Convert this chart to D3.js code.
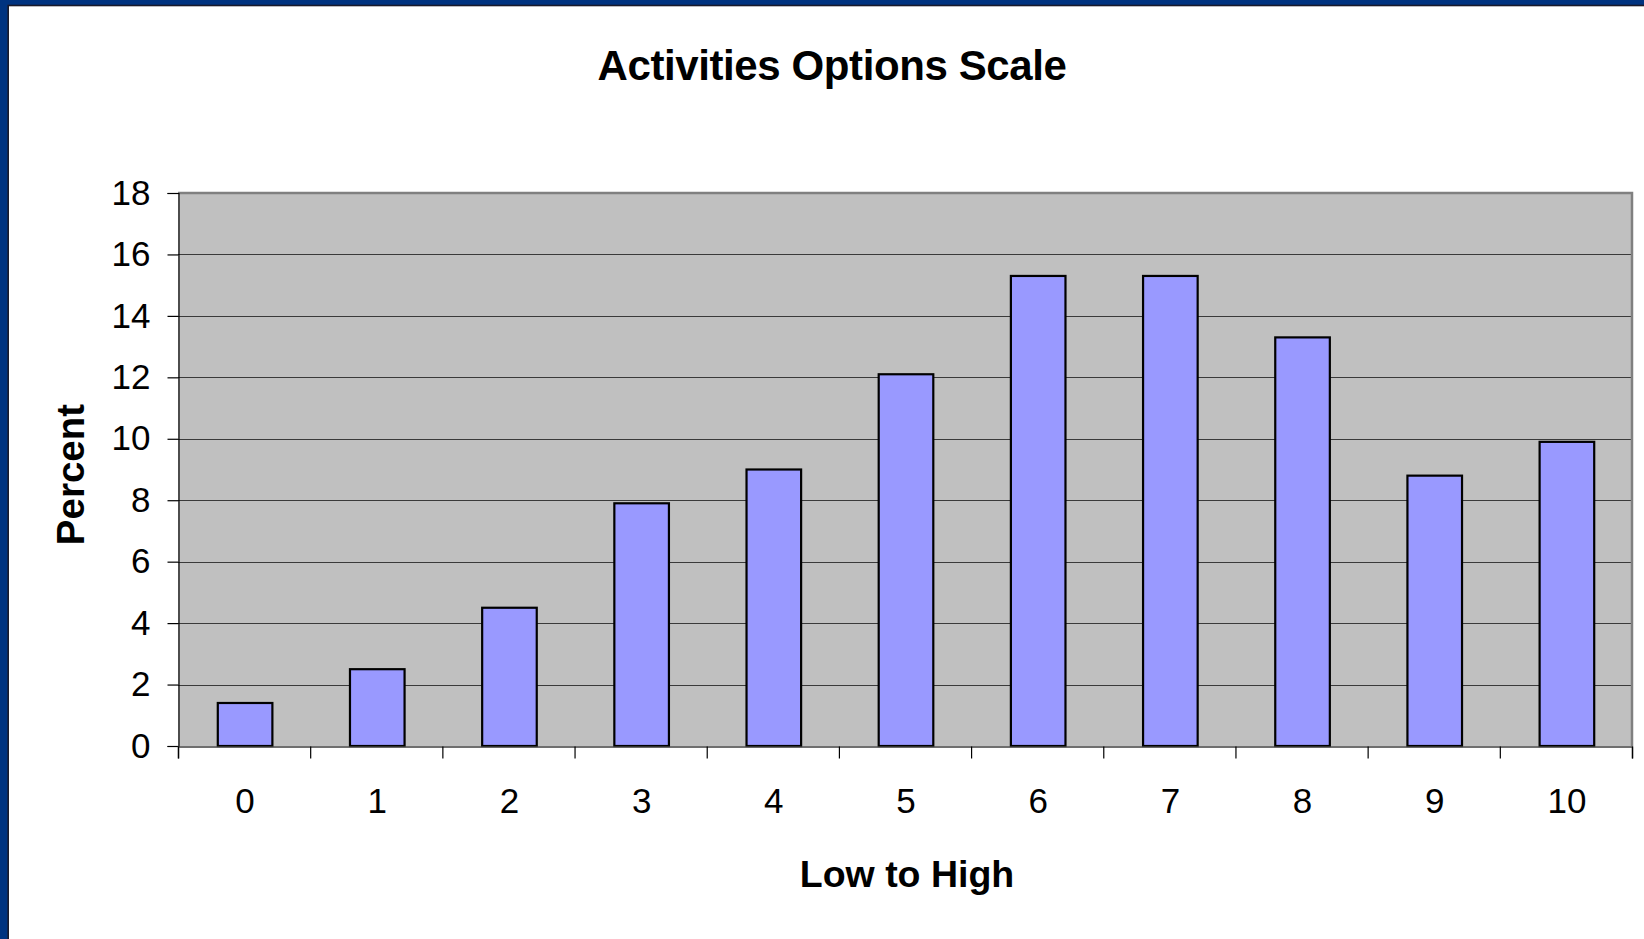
<!DOCTYPE html>
<html>
<head>
<meta charset="utf-8">
<script src="https://cdn.jsdelivr.net/npm/d3@7"></script>
<style>
  html, body { margin: 0; padding: 0; background: #fff; }
  svg { display: block; }
  text { font-family: "Liberation Sans", Arial, sans-serif; fill: #000; }
</style>
</head>
<body>
<svg id="chart" width="1644" height="939"></svg>
<script>
const categories = ["0", "1", "2", "3", "4", "5", "6", "7", "8", "9", "10"];
const percentValues = [1.4, 2.5, 4.5, 7.9, 9.0, 12.1, 15.3, 15.3, 13.3, 8.8, 9.9];
const yTickValues = [0, 2, 4, 6, 8, 10, 12, 14, 16, 18];
const chartTitle = "Activities Options Scale";
const xAxisTitle = "Low to High";
const yAxisTitle = "Percent";

const W = 1644, H = 939;
const plot = { left: 178, right: 1632, top: 193, bottom: 746 };

const svg = d3.select("#chart");

// slide frame
svg.append("rect").attr("x", 0).attr("y", 0).attr("width", W).attr("height", H).attr("fill", "#003380");
svg.append("rect").attr("x", 8.2).attr("y", 5.5).attr("width", W).attr("height", H)
  .attr("fill", "#ffffff").attr("stroke", "#1a1a2a").attr("stroke-width", 1.6);

const x = d3.scaleBand().domain(categories).range([plot.left, plot.right]).padding(0);
const y = d3.scaleLinear().domain([0, 18]).range([plot.bottom, plot.top]);

// plot background
svg.append("rect")
  .attr("x", plot.left).attr("y", plot.top)
  .attr("width", plot.right - plot.left).attr("height", plot.bottom - plot.top)
  .attr("fill", "#c0c0c0");

// gridlines
svg.append("g").selectAll("line")
  .data(yTickValues.filter(v => v > 0 && v < 18))
  .join("line")
  .attr("x1", plot.left).attr("x2", plot.right)
  .attr("y1", d => Math.round(y(d)) + 0.5).attr("y2", d => Math.round(y(d)) + 0.5)
  .attr("stroke", "#3a3a3a").attr("stroke-width", 1);

// top and right plot border
svg.append("path")
  .attr("d", `M${plot.left},${plot.top} H${plot.right} V${plot.bottom}`)
  .attr("fill", "none").attr("stroke", "#808080").attr("stroke-width", 2.5);

// bars
const barFrac = 0.413;
svg.append("g").selectAll("rect")
  .data(percentValues)
  .join("rect")
  .attr("x", (d, i) => x(categories[i]) + x.bandwidth() * (1 - barFrac) / 2 + 1)
  .attr("width", x.bandwidth() * barFrac)
  .attr("y", d => y(d))
  .attr("height", d => y(0) - y(d))
  .attr("fill", "#9999ff")
  .attr("stroke", "#000").attr("stroke-width", 2.2);

// y axis
const yAxis = d3.axisLeft(y).tickValues(yTickValues).tickSize(11).tickPadding(17).tickFormat(d3.format("d"));
const gy = svg.append("g").attr("transform", `translate(${plot.left + 0.5},0)`).call(yAxis);
gy.select(".domain").attr("stroke", "#000").attr("stroke-width", 1.2);
gy.selectAll(".tick line").attr("stroke", "#000").attr("stroke-width", 1.2);
gy.selectAll("text").style("font-size", "35px").style("font-family", "'Liberation Sans', Arial, sans-serif").attr("fill", "#000");

// x axis line + boundary ticks
const boundaries = d3.range(categories.length + 1);
const xb = d3.scaleLinear().domain([0, categories.length]).range([plot.left, plot.right]);
const gxBase = svg.append("g").attr("transform", `translate(0,${plot.bottom + 0.5})`)
  .call(d3.axisBottom(xb).tickValues(boundaries).tickSize(12).tickFormat(""));
gxBase.select(".domain").attr("stroke", "#404040").attr("stroke-width", 1.5);
gxBase.selectAll(".tick line").attr("stroke", "#000").attr("stroke-width", 1.2);

// x category labels
const gx = svg.append("g").attr("transform", `translate(1,${plot.bottom})`)
  .call(d3.axisBottom(x).tickSize(0).tickPadding(42));
gx.select(".domain").remove();
gx.selectAll("text").style("font-size", "35px").style("font-family", "'Liberation Sans', Arial, sans-serif").attr("fill", "#000");

// titles
svg.append("text")
  .attr("x", 832).attr("y", 80)
  .attr("text-anchor", "middle")
  .style("font-size", "42px").style("font-weight", "bold").style("letter-spacing", "-0.4px")
  .text(chartTitle);

svg.append("text")
  .attr("x", (plot.left + plot.right) / 2 + 2).attr("y", 887)
  .attr("text-anchor", "middle")
  .style("font-size", "37.5px").style("font-weight", "bold")
  .text(xAxisTitle);

svg.append("text")
  .attr("transform", `translate(84,${(plot.top + plot.bottom) / 2 + 5}) rotate(-90)`)
  .attr("text-anchor", "middle")
  .style("font-size", "38.5px").style("font-weight", "bold")
  .text(yAxisTitle);
</script>
</body>
</html>
